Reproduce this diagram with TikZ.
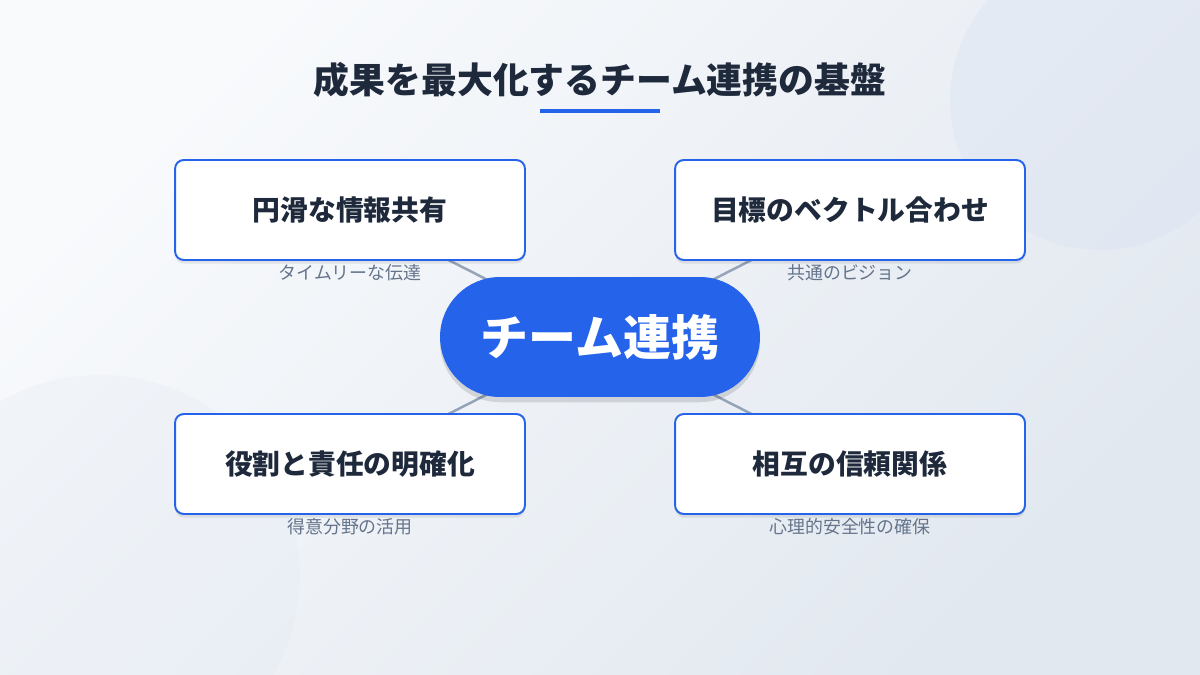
\documentclass[tikz,border=0pt]{standalone}
\usepackage{fontspec}
\newfontfamily\jpfont{Noto Sans CJK JP}
\usetikzlibrary{shadows}
\definecolor{bluemain}{HTML}{2563EB}
\definecolor{darktext}{HTML}{1E293B}
\definecolor{greytext}{HTML}{64748B}
\definecolor{linkgrey}{HTML}{94A3B8}
\definecolor{bgtop}{HTML}{F8FAFC}
\definecolor{bgbottom}{HTML}{E2E8F0}
\definecolor{blobcol}{HTML}{DCE4F2}
\pgfdeclarelayer{bg}
\pgfdeclarelayer{links}
\pgfsetlayers{bg,links,main}
\tikzset{
  card/.style={draw=bluemain, line width=1.1pt, fill=white, rounded corners=5pt,
    minimum width=7cm, minimum height=2cm, text=darktext,
    font=\jpfont\bfseries\fontsize{15.8}{18}\selectfont,
    drop shadow={shadow xshift=0pt, shadow yshift=-2pt, opacity=0.08, fill=black}},
  hub/.style={fill=bluemain, rounded corners=1.2cm, minimum width=6.4cm,
    minimum height=2.4cm, text=white,
    font=\jpfont\bfseries\fontsize{27.3}{30}\selectfont,
    drop shadow={shadow xshift=0pt, shadow yshift=-3pt, opacity=0.12, fill=black}},
  note/.style={text=greytext, font=\jpfont\fontsize{10.2}{12}\selectfont},
  link/.style={draw=linkgrey, line width=1.4pt}
}
\begin{document}
\begin{tikzpicture}[x=0.02cm,y=-0.02cm]
    \useasboundingbox (0,0) rectangle (1200,675);
    \begin{pgfonlayer}{bg}
        \begin{scope}
            \clip (0,0) rectangle (1200,675);
            \shade[top color=bgtop, bottom color=bgbottom, shading angle=45]
                (0,0) rectangle (1200,675);% background
            \fill[blobcol, opacity=0.45] (1100,100) circle (150);% top right circle
            \fill[blobcol, opacity=0.2] (100,575) circle (200);% bottom left circle
        \end{scope}
    \end{pgfonlayer}

    \node[text=darktext, font=\jpfont\bfseries\fontsize{20.4}{24}\selectfont] (title) at (600,80) {成果を最大化するチーム連携の基盤};
    \fill[bluemain] (540,109) rectangle (660,113);% underline

    \node[hub] (team) at (600,337) {チーム連携};

    \node[card] (share) at (350,210) {円滑な情報共有};
    \node[card] (goal) at (850,210) {目標のベクトル合わせ};
    \node[card] (role) at (350,464) {役割と責任の明確化};
    \node[card] (trust) at (850,464) {相互の信頼関係};

    \node[note] (shareNote) at (350,273) {タイムリーな伝達};
    \node[note] (goalNote) at (850,273) {共通のビジョン};
    \node[note] (roleNote) at (350,527) {得意分野の活用};
    \node[note] (trustNote) at (850,527) {心理的安全性の確保};

    \begin{pgfonlayer}{links}
        \draw[link] (team.center) -- (share.center);
        \draw[link] (team.center) -- (goal.center);
        \draw[link] (team.center) -- (role.center);
        \draw[link] (team.center) -- (trust.center);
    \end{pgfonlayer}
\end{tikzpicture}
\end{document}
